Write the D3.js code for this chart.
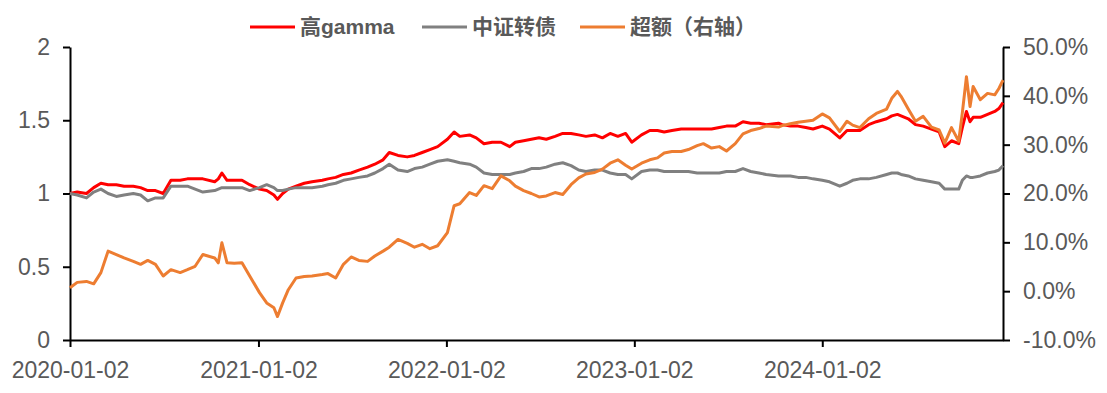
<!DOCTYPE html>
<html lang="zh-CN">
<head>
<meta charset="UTF-8">
<title>高gamma vs 中证转债</title>
<script src="https://cdn.jsdelivr.net/npm/d3@7/dist/d3.min.js"></script>
<style>
  html, body { margin: 0; padding: 0; background: #fff; }
  svg { display: block; }
  .tick text { fill: #595959; font-family: "Liberation Sans", Arial, sans-serif; font-size: 23px; }
  .axis path, .axis line { stroke: #000; stroke-width: 2; }
  .legend text { fill: #595959; font-family: "Liberation Sans", "Noto Sans CJK SC", sans-serif; font-size: 21px; font-weight: bold; }
</style>
</head>
<body>
<svg id="chart" width="1107" height="393"></svg>
<script>
// --- data (semi-monthly samples) ---
const dates = [
  "2020-01-02","2020-01-16","2020-02-03","2020-02-17","2020-03-02","2020-03-16","2020-04-01","2020-04-16",
  "2020-05-04","2020-05-18","2020-06-01","2020-06-16","2020-07-01","2020-07-16","2020-08-03","2020-08-17",
  "2020-09-01","2020-09-16","2020-10-09","2020-10-16","2020-10-23","2020-11-02","2020-11-16","2020-12-01",
  "2020-12-16","2021-01-04","2021-01-18","2021-02-01","2021-02-08","2021-02-18","2021-03-01","2021-03-16",
  "2021-04-01","2021-04-16","2021-05-06","2021-05-17","2021-06-01","2021-06-16","2021-07-01","2021-07-16",
  "2021-08-02","2021-08-16","2021-09-01","2021-09-13","2021-09-30","2021-10-18","2021-11-01","2021-11-16",
  "2021-12-01","2021-12-16","2022-01-04","2022-01-17","2022-01-28","2022-02-16","2022-03-01","2022-03-16",
  "2022-04-01","2022-04-18","2022-05-05","2022-05-16","2022-06-01","2022-06-16","2022-07-01","2022-07-15",
  "2022-08-01","2022-08-16","2022-09-01","2022-09-16","2022-09-30","2022-10-17","2022-11-01","2022-11-16",
  "2022-12-01","2022-12-16","2022-12-28","2023-01-16","2023-02-01","2023-02-16","2023-03-01","2023-03-16",
  "2023-04-03","2023-04-17","2023-05-04","2023-05-16","2023-06-01","2023-06-16","2023-06-30","2023-07-17",
  "2023-08-01","2023-08-16","2023-09-01","2023-09-15","2023-10-09","2023-10-16","2023-11-01","2023-11-16",
  "2023-12-01","2023-12-15","2024-01-02","2024-01-16","2024-02-05","2024-02-19","2024-03-01","2024-03-15",
  "2024-04-01","2024-04-16","2024-05-06","2024-05-16","2024-05-27","2024-06-03","2024-06-17","2024-07-01",
  "2024-07-16","2024-08-01","2024-08-16","2024-08-27","2024-09-09","2024-09-23","2024-09-30","2024-10-08",
  "2024-10-15","2024-10-21","2024-11-04","2024-11-18","2024-12-02","2024-12-10","2024-12-18"
];

const highGamma = [
  1.00,1.01,1.00,1.04,1.07,1.06,1.06,1.05, 1.05,1.04,1.02,1.02,1.00,1.09,1.09,1.10,
  1.10,1.10,1.08,1.10,1.14,1.09,1.09,1.09, 1.06,1.03,1.02,0.99,0.96,1.00,1.03,1.05,
  1.07,1.08,1.09,1.10,1.11,1.13,1.14,1.16, 1.18,1.20,1.23,1.28,1.26,1.25,1.26,1.28,
  1.30,1.32,1.37,1.42,1.39,1.40,1.38,1.34, 1.35,1.35,1.32,1.35,1.36,1.37,1.38,1.37,
  1.39,1.41,1.41,1.40,1.39,1.40,1.38,1.41, 1.39,1.41,1.35,1.40,1.43,1.43,1.42,1.43,
  1.44,1.44,1.44,1.44,1.44,1.45,1.46,1.46, 1.49,1.48,1.48,1.47,1.48,1.47,1.46,1.46,
  1.45,1.44,1.46,1.44,1.38,1.43,1.43,1.43, 1.47,1.49,1.51,1.53,1.54,1.53,1.51,1.47,
  1.46,1.44,1.42,1.32,1.36,1.34,1.45,1.56, 1.49,1.52,1.52,1.54,1.56,1.58,1.62
];

const cbIndex = [
  1.00,0.99,0.97,1.01,1.03,1.00,0.98,0.99, 1.00,0.99,0.95,0.97,0.97,1.05,1.05,1.05,
  1.03,1.01,1.02,1.03,1.04,1.04,1.04,1.04, 1.02,1.04,1.06,1.04,1.02,1.02,1.03,1.04,
  1.04,1.04,1.05,1.06,1.07,1.09,1.10,1.11, 1.12,1.14,1.17,1.20,1.16,1.15,1.17,1.18,
  1.20,1.22,1.23,1.22,1.21,1.20,1.18,1.14, 1.13,1.13,1.13,1.14,1.15,1.17,1.17,1.18,
  1.20,1.21,1.19,1.16,1.15,1.16,1.16,1.14, 1.13,1.13,1.10,1.15,1.16,1.16,1.15,1.15,
  1.15,1.15,1.14,1.14,1.14,1.14,1.15,1.15, 1.17,1.15,1.14,1.13,1.12,1.12,1.12,1.11,
  1.11,1.10,1.09,1.08,1.05,1.07,1.09,1.10, 1.10,1.11,1.13,1.14,1.14,1.13,1.12,1.10,
  1.09,1.08,1.07,1.03,1.03,1.03,1.09,1.12, 1.11,1.11,1.12,1.14,1.15,1.16,1.19
];

// 超额, percent, right axis
const excess = [
  0.7,1.8,2.0,1.5,3.8,8.2,7.5,6.8, 6.1,5.5,6.3,5.5,3.1,4.4,3.8,4.4,
  5.1,7.5,6.8,5.8,9.9,5.8,5.7,5.8, 3.1,-0.3,-2.4,-3.4,-5.2,-2.4,0.3,2.7,
  3.0,3.1,3.4,3.6,2.7,5.5,7.0,6.3, 6.1,7.2,8.2,9.0,10.6,9.8,9.0,9.6,
  8.7,9.3,12.0,17.5,17.9,20.2,19.6,21.6, 21.0,23.6,22.6,21.5,20.6,20.0,19.3,19.5,
  20.2,19.8,21.8,23.2,24.0,24.3,25.0,26.2, 26.9,25.8,25.0,26.2,26.9,27.3,28.3,28.6,
  28.6,29.0,29.8,30.2,29.3,29.6,28.7,30.2, 32.2,32.9,33.3,33.8,33.6,33.9,34.3,34.6,
  34.8,35.0,36.3,35.5,32.7,34.8,34.0,33.5, 35.3,36.4,37.3,39.5,40.9,39.9,37.3,34.8,
  35.8,33.6,33.0,30.3,33.5,30.7,36.5,43.9, 37.8,41.9,39.2,40.5,40.2,41.5,43.2
];

const xTicks = ["2020-01-02","2021-01-02","2022-01-02","2023-01-02","2024-01-02"];
const leftTicks = [0, 0.5, 1, 1.5, 2];
const rightTicks = [-10, 0, 10, 20, 30, 40, 50];

const seriesNames = ["高gamma", "中证转债", "超额（右轴）"];
const seriesColors = ["#FF0000", "#808080", "#ED7D31"];

// --- chart ---
const parse = d3.timeParse("%Y-%m-%d");
const rows = dates.map((d, i) => ({ date: parse(d), hg: highGamma[i], cb: cbIndex[i], ex: excess[i] }));

const svg = d3.select("#chart");
const plotLeft = 70, plotRight = 1003, plotTop = 47, plotBottom = 340;

const x = d3.scaleTime()
  .domain([parse(dates[0]), parse(dates[dates.length - 1])])
  .range([plotLeft, plotRight]);
const yL = d3.scaleLinear().domain([0, 2]).range([plotBottom, plotTop]);
const yR = d3.scaleLinear().domain([-10, 50]).range([plotBottom, plotTop]);

svg.append("g")
  .attr("class", "axis")
  .attr("transform", `translate(0,${plotBottom})`)
  .call(d3.axisBottom(x)
    .tickValues(xTicks.map(parse))
    .tickFormat(d3.timeFormat("%Y-%m-%d"))
    .tickSize(7).tickSizeOuter(0).tickPadding(15));

svg.append("g")
  .attr("class", "axis")
  .attr("transform", `translate(${plotLeft},0)`)
  .call(d3.axisLeft(yL)
    .tickValues(leftTicks)
    .tickFormat(d => String(d))
    .tickSize(7).tickSizeOuter(0).tickPadding(13));

svg.append("g")
  .attr("class", "axis")
  .attr("transform", `translate(${plotRight},0)`)
  .call(d3.axisRight(yR)
    .tickValues(rightTicks)
    .tickFormat(d => d.toFixed(1) + "%")
    .tickSize(7).tickSizeOuter(0).tickPadding(13));

const lineL = key => d3.line().x(d => x(d.date)).y(d => yL(d[key]));
const lineR = d3.line().x(d => x(d.date)).y(d => yR(d.ex));

svg.append("path").datum(rows)
  .attr("fill", "none").attr("stroke", seriesColors[0]).attr("stroke-width", 3)
  .attr("stroke-linejoin", "round")
  .attr("d", lineL("hg"));

svg.append("path").datum(rows)
  .attr("fill", "none").attr("stroke", seriesColors[1]).attr("stroke-width", 3)
  .attr("stroke-linejoin", "round")
  .attr("d", lineL("cb"));

svg.append("path").datum(rows)
  .attr("fill", "none").attr("stroke", seriesColors[2]).attr("stroke-width", 3)
  .attr("stroke-linejoin", "round")
  .attr("d", lineR);

// legend
const legendX = [250, 422, 580];
const legend = svg.append("g").attr("class", "legend");
seriesNames.forEach((name, i) => {
  legend.append("line")
    .attr("x1", legendX[i]).attr("x2", legendX[i] + 45)
    .attr("y1", 27).attr("y2", 27)
    .attr("stroke", seriesColors[i]).attr("stroke-width", 3);
  legend.append("text")
    .attr("x", legendX[i] + 50).attr("y", 27)
    .attr("dy", "0.35em")
    .text(name);
});
</script>
</body>
</html>
